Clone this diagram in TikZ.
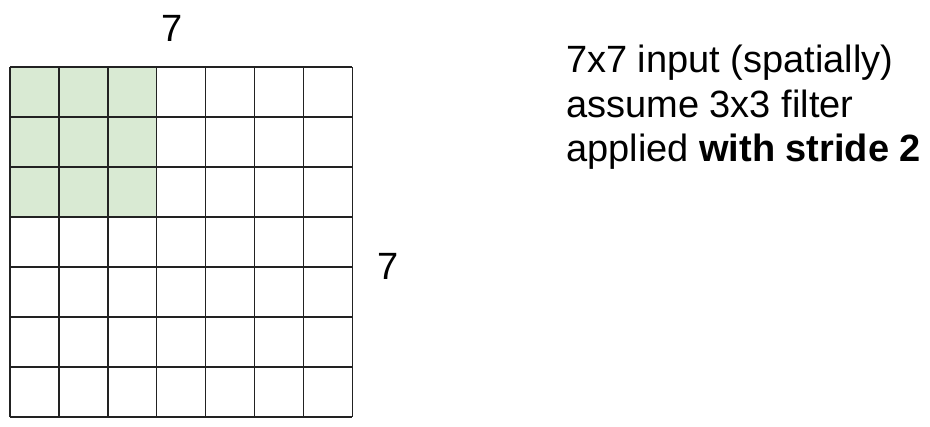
\documentclass[tikz,border=0pt]{standalone}
\usepackage{fontspec}
\setmainfont{Liberation Sans}
\definecolor{cellgreen}{HTML}{D9EAD3}
\definecolor{gridline}{HTML}{222222}
\begin{document}
\begin{tikzpicture}[x=1pt,y=-1pt,
  gridstyle/.style={draw=gridline,line width=1.4pt},
  bigtext/.style={font=\fontsize{38}{44.5}\selectfont,inner sep=0pt,anchor=base west,align=left},
  dimlabel/.style={font=\fontsize{38}{44}\selectfont,inner sep=0pt,anchor=base}]
\useasboundingbox (0,0) rectangle (930,427);
\fill[cellgreen] (10,67) rectangle (156.3,217);
\foreach \i in {0,...,7}{
  \draw[gridstyle] ({10+\i*48.9},67) -- ({10+\i*48.9},417);
  \draw[gridstyle] (10,{67+\i*50}) -- (352.3,{67+\i*50});
}
\node[dimlabel] (top) at (172,42) {7};
\node[dimlabel] (right) at (388,280) {7};
\node[bigtext] (desc) at (566,162) {7x7 input (spatially)\\assume 3x3 filter\\applied \textbf{with stride 2}};
\end{tikzpicture}
\end{document}
